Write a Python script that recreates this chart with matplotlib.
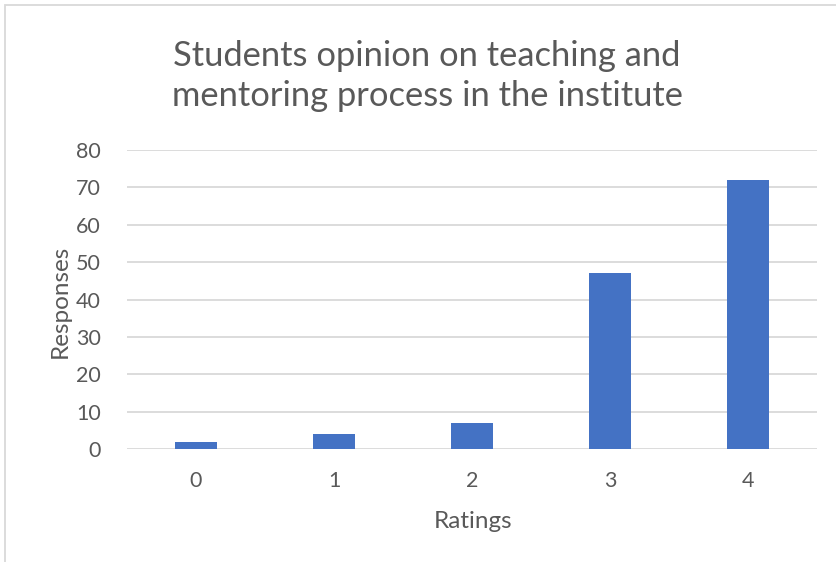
import matplotlib
matplotlib.use("Agg")
import matplotlib.pyplot as plt
from matplotlib.patches import Rectangle

categories = ["0", "1", "2", "3", "4"]
responses = [2, 4, 7, 47, 72]
y_ticks = [0, 10, 20, 30, 40, 50, 60, 70, 80]

title = "Students opinion on teaching and\nmentoring process in the institute"
x_label = "Ratings"
y_label = "Responses"

plt.rcParams['font.family'] = ['Lato', 'DejaVu Sans']
text_color = "#595959"

fig = plt.figure(figsize=(8.36, 5.62), dpi=100)
ax = fig.add_axes([127/836, 1-449/562, 690/836, 299/562])

x = list(range(len(categories)))
ax.bar(x, responses, width=0.31, color="#4472C4", zorder=3)
ax.set_xlim(-0.5, len(categories) - 0.5)
ax.set_ylim(0, 80)
ax.set_yticks(y_ticks)
ax.set_xticks(x)
ax.set_xticklabels(categories)
ax.yaxis.grid(True, color="#d9d9d9", linewidth=1.3, zorder=0)
ax.set_axisbelow(True)
for s in ax.spines.values():
    s.set_visible(False)
ax.tick_params(axis='both', length=0, labelsize=15.5, labelcolor=text_color)
ax.tick_params(axis='x', pad=16)
ax.tick_params(axis='y', pad=19)

fig.text(473/836, 1-521/562, x_label, ha='center', va='center', fontsize=17.5, color=text_color)
fig.text(60/836, 1-301/562, y_label, ha='center', va='center', rotation=90, fontsize=17.5, color=text_color)
fig.text(427/836, 1-76/562, title, ha='center', va='center', fontsize=24.8, color=text_color, linespacing=1.32)

# outer chart border (partially visible)
fig.patches.append(Rectangle((5/836, -0.1), 1.2, 1 - 5/562 + 0.1, transform=fig.transFigure,
                             fill=False, edgecolor="#d9d9d9", linewidth=1.3))

fig.savefig("out.png", dpi=100, facecolor="white")
